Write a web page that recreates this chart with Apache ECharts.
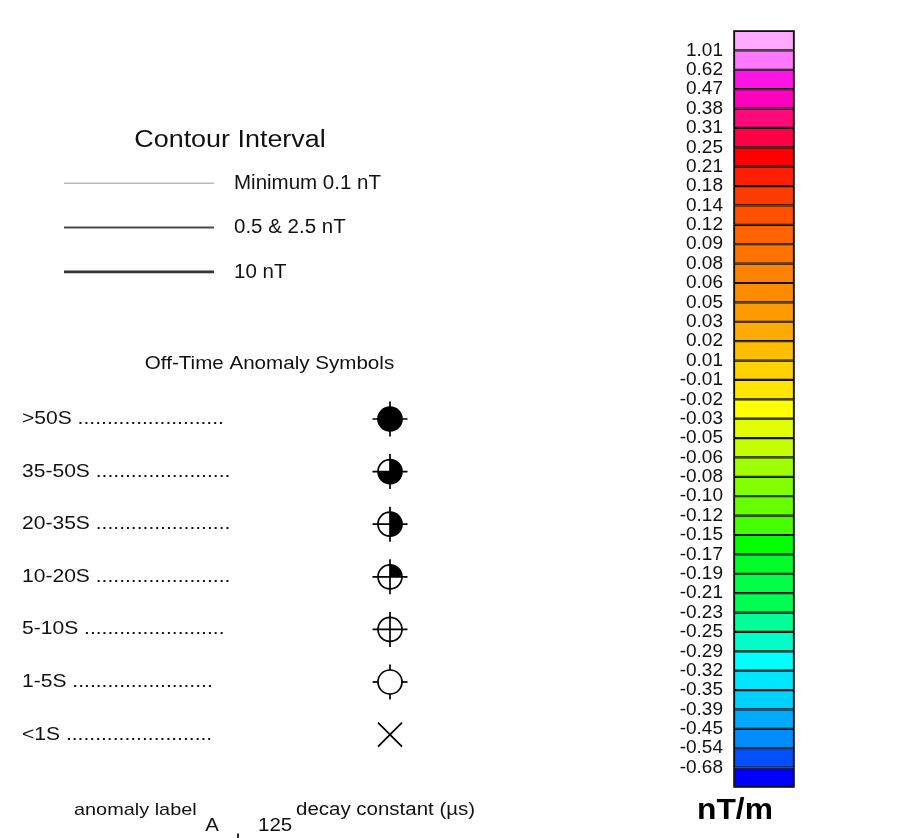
<!DOCTYPE html>
<html>
<head>
<meta charset="utf-8">
<title>Legend</title>
<script src="https://cdn.jsdelivr.net/npm/echarts@6/dist/echarts.min.js"></script>
<style>
  html, body { margin: 0; padding: 0; background: #fff; }
  #main { width: 909px; height: 838px; }
</style>
</head>
<body>
<div id="main"></div>
<script>
// colour bar: boundary labels (top -> bottom) and the 39 cell colours
const levelLabels = ['1.01', '0.62', '0.47', '0.38', '0.31', '0.25', '0.21', '0.18', '0.14', '0.12',
  '0.09', '0.08', '0.06', '0.05', '0.03', '0.02', '0.01', '-0.01', '-0.02', '-0.03',
  '-0.05', '-0.06', '-0.08', '-0.10', '-0.12', '-0.15', '-0.17', '-0.19', '-0.21', '-0.23',
  '-0.25', '-0.29', '-0.32', '-0.35', '-0.39', '-0.45', '-0.54', '-0.68']
const cellColors = ['#ffaaff', '#ff78ff', '#ff14e6', '#ff00be', '#ff0a78', '#ff0046', '#ff0000', '#ff1e00',
  '#ff3c00', '#ff5000', '#ff6400', '#ff7300', '#ff8200', '#ff8c00', '#ff9b00', '#ffaa00', '#ffbe00',
  '#ffd200', '#ffe600', '#ffff00', '#e1ff00', '#c3ff00', '#a0ff00', '#82ff00', '#64ff00', '#46ff00',
  '#00ff00', '#00ff28', '#00ff46', '#00ff50', '#00ff96', '#00ffc8', '#00ffff', '#00e6ff', '#00d2ff',
  '#00aaff', '#008cff', '#0050ff', '#0000ff']

// contour interval legend
const contourNames = ['Minimum 0.1 nT', '0.5 & 2.5 nT', '10 nT']
const contourWidths = [1.2, 1.8, 2.8]
const contourColors = ['#7a7a7a', '#4a4a4a', '#333333']

// off-time anomaly symbols
const symbolLabels = ['>50S .........................', '35-50S .......................',
  '20-35S .......................', '10-20S .......................', '5-10S ........................',
  '1-5S ........................', '<1S .........................']
const symbolKinds = ['full', 'threeQuarter', 'half', 'quarter', 'cross', 'ticks', 'x']

const FONT = '"Liberation Sans", Arial, sans-serif'
const SX = 1.17 // the source text is drawn a little wide

function txt (text, x, y, size, align, extra) {
  return Object.assign({
    type: 'text',
    x: x,
    y: y,
    scaleX: SX,
    silent: true,
    style: {
      text: text,
      font: size + 'px ' + FONT,
      fill: '#111',
      align: align,
      textAlign: align,
      verticalAlign: 'middle',
      textVerticalAlign: 'middle'
    }
  }, extra || {})
}

function anomalySymbol (kind, cx, cy) {
  const r = 12
  const t = 17.5
  const line = { stroke: '#000', lineWidth: 1.7 }
  const els = []
  if (kind === 'x') {
    els.push({ type: 'line', shape: { x1: cx - 12, y1: cy - 12, x2: cx + 12, y2: cy + 12 }, style: line })
    els.push({ type: 'line', shape: { x1: cx - 12, y1: cy + 12, x2: cx + 12, y2: cy - 12 }, style: line })
    return els
  }
  els.push({ type: 'circle', shape: { cx: cx, cy: cy, r: r }, style: { fill: '#fff' } })
  const fills = {
    full: [0, Math.PI * 2],
    threeQuarter: [-Math.PI / 2, Math.PI],
    half: [-Math.PI / 2, Math.PI / 2],
    quarter: [-Math.PI / 2, 0]
  }
  if (fills[kind]) {
    els.push({
      type: 'sector',
      shape: { cx: cx, cy: cy, r: r, r0: 0, startAngle: fills[kind][0], endAngle: fills[kind][1], clockwise: true },
      style: { fill: '#000' }
    })
  }
  if (kind === 'ticks') {
    els.push({ type: 'line', shape: { x1: cx - t, y1: cy, x2: cx - r, y2: cy }, style: line })
    els.push({ type: 'line', shape: { x1: cx + r, y1: cy, x2: cx + t, y2: cy }, style: line })
    els.push({ type: 'line', shape: { x1: cx, y1: cy - t, x2: cx, y2: cy - r }, style: line })
    els.push({ type: 'line', shape: { x1: cx, y1: cy + r, x2: cx, y2: cy + t }, style: line })
  } else {
    els.push({ type: 'line', shape: { x1: cx - t, y1: cy, x2: cx + t, y2: cy }, style: line })
    els.push({ type: 'line', shape: { x1: cx, y1: cy - t, x2: cx, y2: cy + t }, style: line })
  }
  els.push({ type: 'circle', shape: { cx: cx, cy: cy, r: r }, style: { fill: 'none', stroke: '#000', lineWidth: 1.7 } })
  return els
}

const myChart = echarts.init(document.getElementById('main'))

const option = {
  animation: false,
  backgroundColor: '#fff',
  grid: [
    // colour bar
    { left: 734, top: 31, width: 60, height: 756, show: true, borderColor: '#000', borderWidth: 1.5, backgroundColor: 'transparent' },
    // anomaly symbols
    { left: 22, top: 392.7, width: 368, height: 368.2 },
    // contour lines
    { left: 64, top: 183, width: 150, height: 89 }
  ],
  xAxis: [
    { type: 'value', gridIndex: 0, min: 0, max: 1, show: false },
    { type: 'value', gridIndex: 1, min: 0, max: 1, show: false },
    { type: 'value', gridIndex: 2, min: 0, max: 1, show: false }
  ],
  yAxis: [
    {
      type: 'category',
      gridIndex: 0,
      inverse: true,
      show: false,
      data: cellColors.map((c, i) => 'c' + i)
    },
    {
      type: 'value',
      gridIndex: 0,
      position: 'left',
      inverse: true,
      min: 0,
      max: 39,
      interval: 1,
      axisLine: { show: false },
      axisTick: { show: false },
      splitLine: { show: false },
      axisLabel: {
        margin: 11,
        fontSize: 19,
        fontFamily: FONT,
        color: '#111',
        formatter: function (v) {
          return (v >= 1 && v <= levelLabels.length) ? levelLabels[v - 1] : ''
        }
      }
    },
    { type: 'category', gridIndex: 1, inverse: true, show: false, data: symbolLabels },
    { type: 'value', gridIndex: 2, inverse: true, min: 0, max: 2, show: false }
  ],
  series: [
    {
      name: 'nT/m',
      type: 'bar',
      xAxisIndex: 0,
      yAxisIndex: 0,
      barWidth: '100%',
      silent: true,
      itemStyle: { borderColor: '#111', borderWidth: 1.1 },
      data: cellColors.map(c => ({ value: 1, itemStyle: { color: c } }))
    },
    {
      name: 'symbols',
      type: 'custom',
      xAxisIndex: 1,
      yAxisIndex: 2,
      clip: false,
      silent: true,
      data: symbolLabels.map((s, i) => [1, i]),
      renderItem: function (params, api) {
        const i = params.dataIndex
        const left = api.coord([0, i])
        const p = api.coord([1, i])
        const children = [txt(symbolLabels[i], left[0], left[1], 18, 'left')]
        return { type: 'group', children: children.concat(anomalySymbol(symbolKinds[i], p[0], p[1])) }
      }
    }
  ].concat(contourNames.map((name, i) => ({
    name: name,
    type: 'line',
    xAxisIndex: 2,
    yAxisIndex: 3,
    symbol: 'none',
    silent: true,
    lineStyle: { width: contourWidths[i], color: contourColors[i] },
    endLabel: {
      show: true,
      distance: 20,
      formatter: name,
      fontSize: 20.5,
      fontFamily: FONT,
      color: '#111'
    },
    data: [[0, i], [1, i]]
  }))),
  graphic: [
    txt('Contour Interval', 230, 141, 23, 'center'),
    txt('Off-Time Anomaly Symbols', 269.5, 364, 17.6, 'center'),
    txt('anomaly label', 74, 810, 17, 'left'),
    txt('A', 212, 826, 17.5, 'center'),
    txt('125', 258, 826, 17.5, 'left'),
    txt('decay constant (\u00b5s)', 296, 810, 17.5, 'left'),
    {
      type: 'text',
      x: 735,
      y: 811,
      scaleX: 1.06,
      silent: true,
      style: {
        text: 'nT/m',
        font: 'bold 30px ' + FONT,
        fill: '#000',
        align: 'center',
        textAlign: 'center',
        verticalAlign: 'middle',
        textVerticalAlign: 'middle'
      }
    },
    { type: 'group', silent: true, children: anomalySymbol('cross', 238, 851) }
  ]
}

myChart.setOption(option)
</script>
</body>
</html>
